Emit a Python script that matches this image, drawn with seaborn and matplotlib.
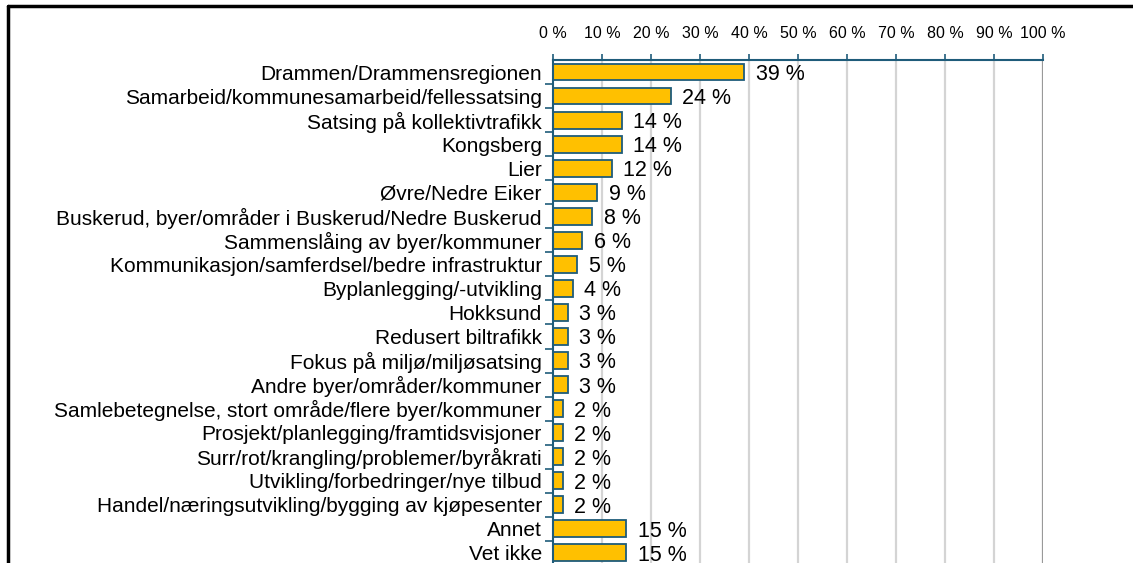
import matplotlib
matplotlib.use('Agg')
import matplotlib.pyplot as plt
import seaborn as sns
import pandas as pd
import numpy as np
from matplotlib.lines import Line2D
from matplotlib.ticker import FixedLocator

# ── data ───────────────────────────────────────────────────────
categories = [
    'Drammen/Drammensregionen',
    'Samarbeid/kommunesamarbeid/fellessatsing',
    'Satsing på kollektivtrafikk',
    'Kongsberg',
    'Lier',
    'Øvre/Nedre Eiker',
    'Buskerud, byer/områder i Buskerud/Nedre Buskerud',
    'Sammenslåing av byer/kommuner',
    'Kommunikasjon/samferdsel/bedre infrastruktur',
    'Byplanlegging/-utvikling',
    'Hokksund',
    'Redusert biltrafikk',
    'Fokus på miljø/miljøsatsing',
    'Andre byer/områder/kommuner',
    'Samlebetegnelse, stort område/flere byer/kommuner',
    'Prosjekt/planlegging/framtidsvisjoner',
    'Surr/rot/krangling/problemer/byråkrati',
    'Utvikling/forbedringer/nye tilbud',
    'Handel/næringsutvikling/bygging av kjøpesenter',
    'Annet',
    'Vet ikke',
]
values = [39, 24, 14, 14, 12, 9, 8, 6, 5, 4, 3, 3, 3, 3, 2, 2, 2, 2, 2, 15, 15]
x_ticks = list(range(0, 101, 10))
x_tick_labels = [f'{t} %' for t in x_ticks]

df = pd.DataFrame({'category': categories, 'value': values})

# ── style ──────────────────────────────────────────────────────
sns.set_style('white')
plt.rcParams['font.family'] = ['Liberation Sans', 'DejaVu Sans']
plt.rcParams['text.color'] = 'black'
plt.rcParams['xtick.labelcolor'] = 'black'
plt.rcParams['ytick.labelcolor'] = 'black'

TEAL = '#1F5C7A'
BAR = '#FFC000'

fig = plt.figure(figsize=(11.33, 5.63), dpi=100)
ax = fig.add_axes([0.488, 0.0, 0.4326, 0.8934])

sns.barplot(data=df, x='value', y='category', orient='h', color=BAR,
            edgecolor=TEAL, linewidth=1.3, width=0.7, saturation=1, ax=ax)

ax.set_xlim(0, 100)
ax.set_ylim(20.42, -0.5)
ax.set_xlabel('')
ax.set_ylabel('')

# top axis with percentage labels
ax.xaxis.tick_top()
ax.set_xticks(x_ticks)
ax.set_xticklabels(x_tick_labels, fontsize=11.5)
ax.tick_params(axis='x', direction='out', length=4, width=1.2, color=TEAL, pad=10)

# category labels, tick marks between bars
ax.tick_params(axis='y', which='major', length=0, labelsize=15, pad=8)
ax.yaxis.set_minor_locator(FixedLocator(np.arange(0.5, len(categories), 1)))
ax.tick_params(axis='y', which='minor', direction='out', length=6, width=1.2, color=TEAL, left=True)

for s in ['bottom', 'right']:
    ax.spines[s].set_visible(False)
for s in ['top', 'left']:
    ax.spines[s].set_color(TEAL)
    ax.spines[s].set_linewidth(1.5)

# vertical gridlines
for t in x_ticks[1:]:
    ax.axvline(t, color='#999999' if t == 100 else '#D4D4D4', lw=1.6, zorder=0)
ax.set_axisbelow(True)

# value labels
for i, v in enumerate(values):
    ax.text(v + 2.4, i + 0.1, f'{v} %', va='center', ha='left', fontsize=15.5)

# frame lines of the cropped original
fig.add_artist(Line2D([0.0075, 1.0], [0.9885, 0.9885], color='black', lw=2.5))
fig.add_artist(Line2D([0.0075, 0.0075], [0.0, 0.9885], color='black', lw=2.5))

fig.savefig('out.png', dpi=100)
